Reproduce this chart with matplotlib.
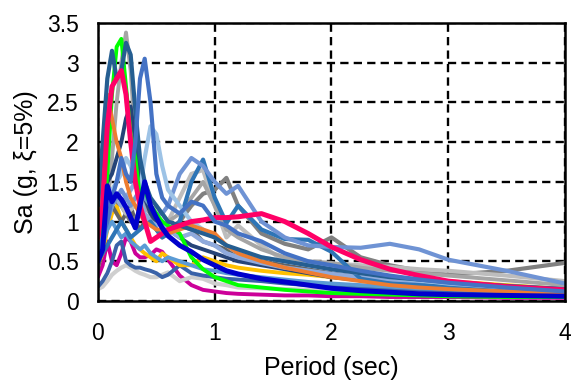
#!/usr/bin/env python3

import numpy as np
import matplotlib
matplotlib.use("Agg")
import matplotlib.pyplot as plt

plt.rcParams['font.family'] = ['Liberation Sans', 'DejaVu Sans']

# periods (sec), shared by all spectra
period = [0.0, 0.04, 0.08, 0.12, 0.16, 0.2, 0.24, 0.28, 0.32, 0.36, 0.4, 0.45, 0.5, 0.55, 0.6,
          0.7, 0.8, 0.9, 1.0, 1.1, 1.2, 1.4, 1.6, 1.8, 2.0, 2.25, 2.5, 2.75, 3.0, 3.5, 4.0]

# Sa (g) for each ground motion
sa_lgray_low = [0.15, 0.18, 0.25, 0.33, 0.38, 0.42, 0.45, 0.42, 0.38, 0.35, 0.33, 0.3, 0.3, 0.33, 0.36,
                0.25, 0.3, 0.28, 0.22, 0.2, 0.17, 0.16, 0.15, 0.14, 0.13, 0.12, 0.12, 0.11, 0.1, 0.1, 0.1]
sa_navy_low = [0.18, 0.25, 0.35, 0.5, 0.7, 0.75, 0.5, 0.45, 0.42, 0.42, 0.4, 0.38, 0.35, 0.3, 0.33,
               0.45, 0.35, 0.32, 0.3, 0.28, 0.27, 0.25, 0.22, 0.2, 0.18, 0.16, 0.15, 0.14, 0.13, 0.11, 0.1]
sa_magenta = [0.3, 0.45, 0.75, 0.5, 0.45, 0.6, 0.8, 0.75, 0.6, 0.55, 0.55, 0.58, 0.65, 0.62, 0.52,
              0.32, 0.2, 0.14, 0.12, 0.1, 0.09, 0.08, 0.07, 0.07, 0.06, 0.06, 0.05, 0.05, 0.05, 0.04, 0.04]
sa_gold = [0.45, 0.6, 0.9, 1.1, 1.2, 1.0, 0.9, 0.8, 0.7, 0.65, 0.6, 0.55, 0.5, 0.6, 0.55,
           0.45, 0.45, 0.55, 0.5, 0.45, 0.42, 0.38, 0.35, 0.33, 0.3, 0.3, 0.28, 0.27, 0.25, 0.2, 0.15]
sa_gray_dark = [0.4, 0.7, 1.0, 1.2, 1.1, 1.0, 1.1, 1.2, 1.0, 0.9, 1.0, 1.1, 0.9, 0.8, 0.85,
                0.95, 0.9, 0.75, 0.7, 0.65, 0.6, 0.5, 0.45, 0.4, 0.35, 0.3, 0.27, 0.24, 0.22, 0.18, 0.15]
sa_gray = [0.5, 0.8, 1.1, 1.3, 1.25, 1.2, 1.1, 1.0, 1.05, 1.1, 1.2, 1.1, 1.0, 0.95, 0.9,
           1.0, 1.2, 1.35, 1.4, 1.55, 1.2, 0.85, 0.72, 0.65, 0.8, 0.55, 0.45, 0.38, 0.33, 0.38, 0.48]
sa_gray_light = [0.6, 0.8, 1.0, 1.2, 1.3, 1.2, 1.1, 1.15, 1.2, 1.1, 1.0, 1.1, 1.2, 1.1, 1.0,
                 1.3, 1.6, 1.65, 1.2, 0.8, 0.95, 0.7, 0.5, 0.48, 0.47, 0.45, 0.43, 0.4, 0.38, 0.32, 0.25]
sa_gray_peak = [0.5, 0.8, 1.2, 1.8, 2.5, 3.0, 3.38, 2.9, 2.0, 1.5, 1.2, 1.1, 1.0, 0.95, 1.0,
                1.1, 1.3, 1.5, 1.2, 0.9, 0.8, 0.65, 0.55, 0.5, 0.48, 0.42, 0.38, 0.35, 0.32, 0.26, 0.2]
sa_blue_mid = [0.6, 0.7, 0.9, 1.0, 0.9, 0.8, 0.85, 0.75, 0.7, 0.65, 0.7, 0.6, 0.55, 0.5, 0.55,
               0.5, 0.45, 0.4, 0.38, 0.35, 0.33, 0.3, 0.27, 0.24, 0.22, 0.2, 0.18, 0.16, 0.15, 0.12, 0.1]
sa_navy = [0.8, 1.2, 1.5, 1.6, 1.8, 2.0, 2.3, 2.45, 2.0, 1.5, 1.3, 1.1, 1.0, 0.95, 0.9,
           0.8, 0.7, 0.65, 0.6, 0.55, 0.5, 0.45, 0.4, 0.35, 0.3, 0.26, 0.23, 0.2, 0.18, 0.14, 0.12]
sa_periwinkle = [0.9, 1.1, 1.3, 1.4, 1.3, 1.2, 1.3, 1.4, 1.5, 1.3, 1.1, 1.0, 0.95, 1.0, 0.9,
                 0.8, 0.85, 0.75, 0.7, 0.6, 0.55, 0.48, 0.42, 0.38, 0.34, 0.3, 0.27, 0.24, 0.22, 0.18, 0.15]
sa_blue_09 = [0.5, 0.6, 0.7, 0.8, 0.9, 1.0, 0.9, 0.8, 0.85, 0.9, 0.95, 1.0, 0.9, 0.8, 0.85,
              1.0, 1.5, 1.78, 1.3, 0.98, 1.2, 0.9, 0.78, 0.77, 0.62, 0.28, 0.22, 0.2, 0.18, 0.15, 0.12]
sa_cornflower = [0.6, 0.8, 1.0, 1.2, 1.3, 1.4, 1.3, 1.2, 1.3, 1.4, 1.3, 1.2, 1.1, 1.1, 1.2,
                 1.6, 1.8, 1.7, 1.5, 1.35, 1.45, 1.0, 0.8, 0.7, 0.68, 0.67, 0.72, 0.65, 0.52, 0.38, 0.22]
sa_lightblue = [0.8, 1.0, 1.2, 1.4, 1.5, 1.6, 1.8, 1.7, 1.5, 1.4, 1.8, 2.2, 2.1, 1.7, 1.4,
                1.2, 1.0, 0.9, 0.8, 0.7, 0.6, 0.55, 0.5, 0.45, 0.4, 0.35, 0.3, 0.26, 0.22, 0.17, 0.13]
sa_green = [0.5, 0.9, 1.6, 2.6, 3.2, 3.3, 2.7, 2.1, 1.8, 1.3, 1.4, 1.2, 1.1, 1.0, 0.95,
            0.85, 0.55, 0.4, 0.3, 0.25, 0.2, 0.17, 0.14, 0.12, 0.1, 0.09, 0.08, 0.07, 0.06, 0.05, 0.05]
sa_orange = [0.6, 1.8, 2.6, 2.3, 2.0, 1.8, 1.5, 1.3, 1.2, 1.1, 1.0, 0.95, 0.9, 0.9, 0.85,
             0.9, 0.95, 0.9, 0.85, 0.7, 0.6, 0.5, 0.42, 0.36, 0.3, 0.25, 0.2, 0.17, 0.15, 0.12, 0.1]
sa_steel = [1.2, 2.0, 2.8, 3.15, 2.8, 2.9, 3.25, 3.1, 2.4, 1.8, 1.5, 1.3, 1.2, 1.1, 1.0,
            0.95, 0.9, 0.85, 0.8, 0.7, 0.65, 0.55, 0.5, 0.45, 0.4, 0.35, 0.3, 0.27, 0.24, 0.19, 0.15]
sa_pink = [0.8, 1.2, 2.2, 2.7, 2.8, 2.9, 2.6, 2.0, 1.5, 1.2, 1.0, 0.75, 0.8, 0.85, 0.9,
           0.95, 1.0, 1.02, 1.05, 1.05, 1.06, 1.1, 1.0, 0.85, 0.68, 0.52, 0.4, 0.32, 0.25, 0.18, 0.14]
sa_blue_44 = [0.6, 0.8, 1.0, 1.3, 1.5, 1.8, 1.6, 1.5, 2.0, 2.8, 3.05, 2.5, 1.6, 1.3, 1.2,
              1.1, 1.25, 1.2, 1.0, 0.95, 0.85, 0.75, 0.6, 0.5, 0.45, 0.38, 0.32, 0.27, 0.23, 0.17, 0.12]
sa_darkblue = [0.5, 0.65, 1.45, 1.25, 1.35, 1.28, 1.18, 1.05, 0.92, 1.2, 1.5, 1.2, 1.05, 0.92, 0.82,
               0.7, 0.62, 0.52, 0.45, 0.38, 0.34, 0.28, 0.24, 0.2, 0.16, 0.13, 0.11, 0.09, 0.08, 0.07, 0.06]

# drawing order: back to front
series = [
    (sa_magenta, "#CC0099", 2.8),
    (sa_lgray_low, "#CFCFCF", 3.0),
    (sa_navy_low, "#3A62A8", 2.8),
    (sa_gold, "#FFC000", 2.8),
    (sa_gray_dark, "#636363", 2.8),
    (sa_gray, "#808080", 3.0),
    (sa_gray_light, "#BDBDBD", 3.0),
    (sa_gray_peak, "#A5A5A5", 2.8),
    (sa_blue_mid, "#5B9BD5", 2.8),
    (sa_navy, "#264478", 2.8),
    (sa_periwinkle, "#8FAADC", 3.2),
    (sa_blue_09, "#2E75B6", 3.0),
    (sa_cornflower, "#6F93D4", 3.0),
    (sa_lightblue, "#9DC3E6", 3.0),
    (sa_green, "#00FF00", 2.8),
    (sa_orange, "#ED7D31", 2.8),
    (sa_steel, "#255E91", 3.0),
    (sa_pink, "#FF0066", 3.6),
    (sa_blue_44, "#4472C4", 3.0),
    (sa_darkblue, "#0000CC", 3.6),
]

fig = plt.figure(figsize=(5.71, 3.80), dpi=100)
ax = fig.add_axes([0.1716, 0.2079, 0.8179, 0.7316])

for values, color, lw in series:
    ax.plot(period, values, color=color, lw=lw, solid_joinstyle='round', solid_capstyle='round')

ax.set_xlim(0, 4)
ax.set_ylim(0, 3.5)
ax.set_xticks([0, 1, 2, 3, 4])
ax.set_yticks(np.arange(0, 3.51, 0.5))
ax.set_yticklabels(["0", "0.5", "1", "1.5", "2", "2.5", "3", "3.5"])
ax.tick_params(length=0, labelsize=16.5)
ax.tick_params(axis='y', pad=14)
ax.tick_params(axis='x', pad=15)

ax.set_axisbelow(True)
ax.grid(True, color='black', linestyle=(0, (3.5, 2.2)), lw=1.7)
for s in ax.spines.values():
    s.set_color('black')
    s.set_linewidth(1.8)

ax.set_xlabel("Period (sec)", fontsize=18, labelpad=8)
ax.set_ylabel("Sa (g, ξ=5%)", fontsize=18, labelpad=6)

fig.savefig("out.png", dpi=100)
